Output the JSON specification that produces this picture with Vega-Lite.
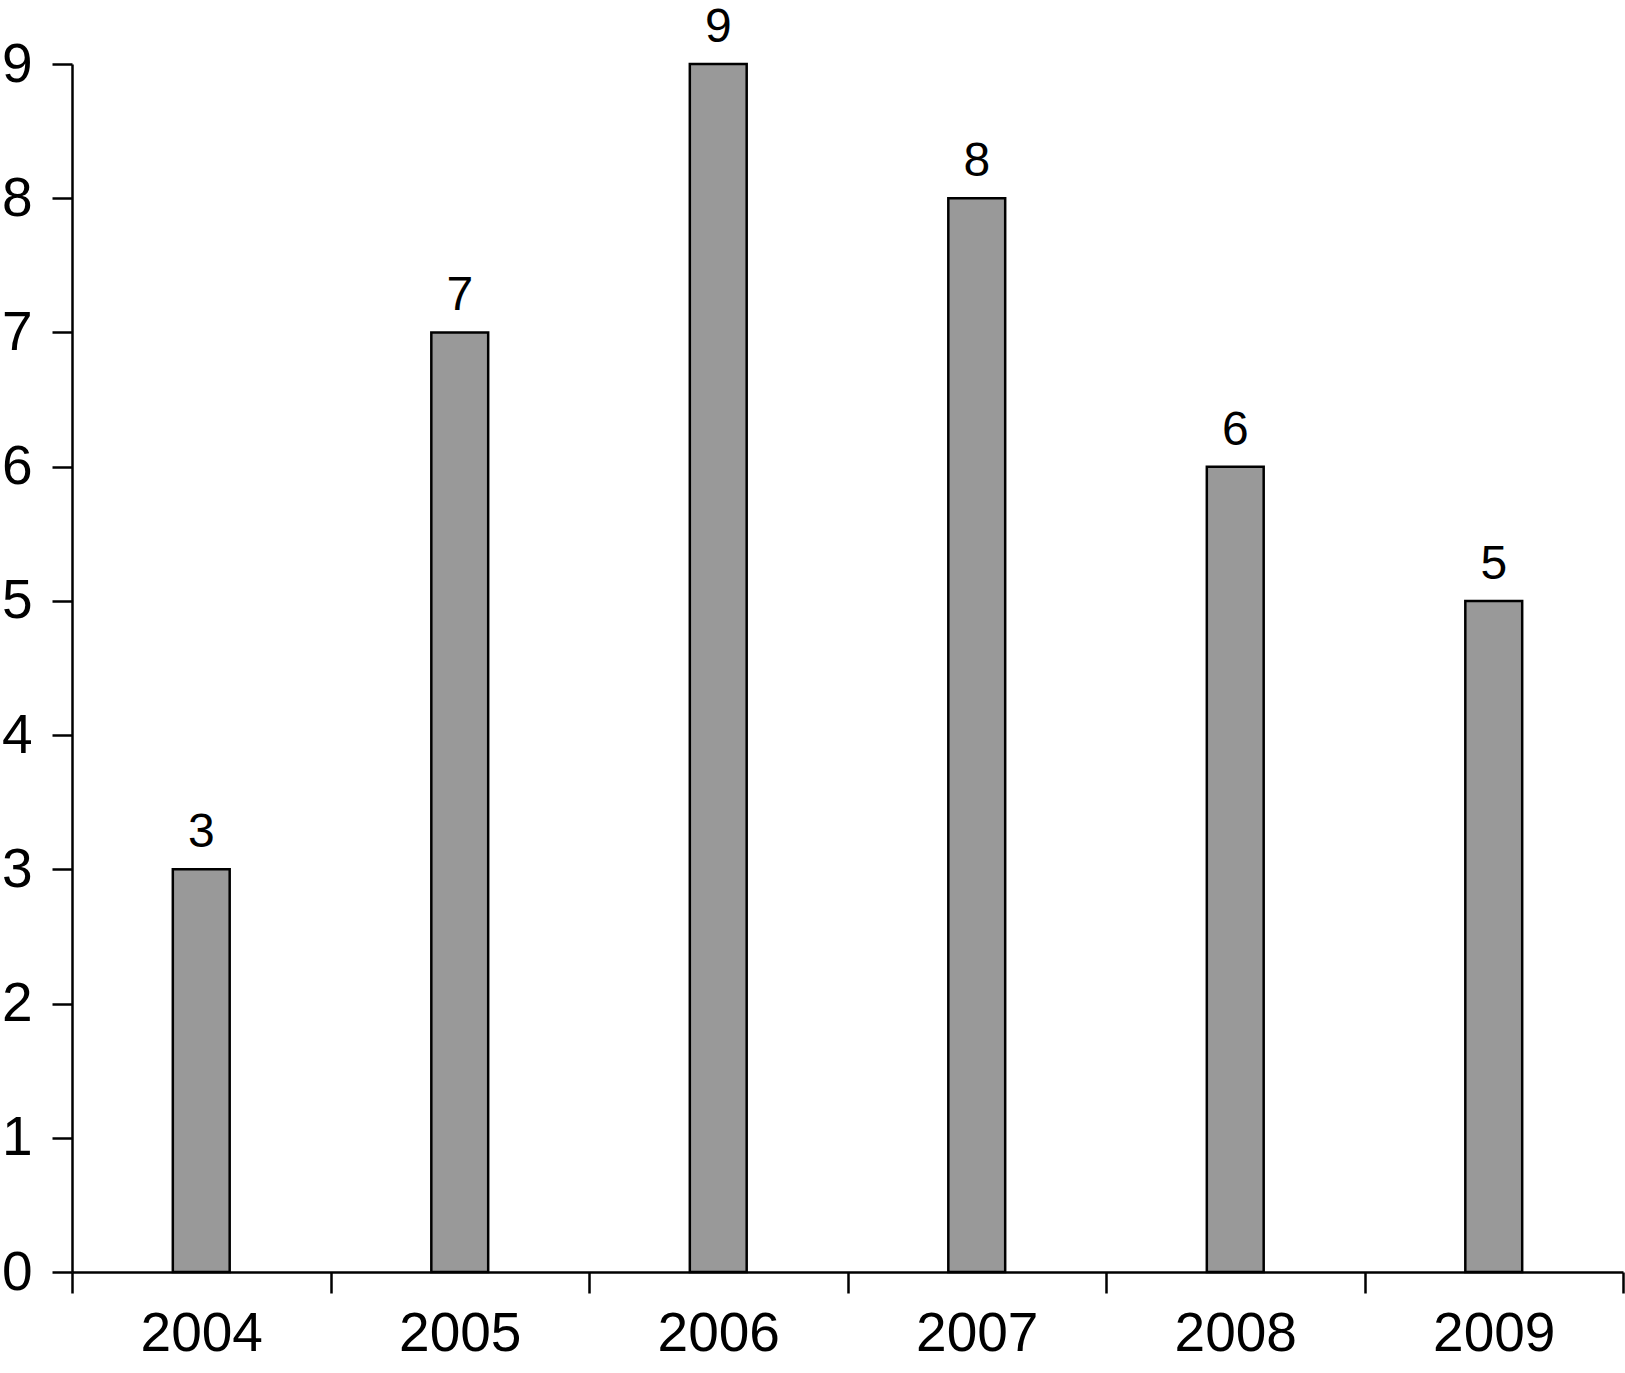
{
  "$schema": "https://vega.github.io/schema/vega-lite/v6.json",
  "autosize": {"type": "none"},
  "width": 1551,
  "height": 1208,
  "padding": {"left": 72, "top": 64, "right": 2, "bottom": 101},
  "background": "white",
  "config": {
    "view": {"stroke": null},
    "font": "Liberation Sans",
    "axis": {
      "domainColor": "black",
      "domainWidth": 2.5,
      "tickColor": "black",
      "tickWidth": 2.5,
      "labelColor": "black",
      "labelFont": "Liberation Sans",
      "labelFontSize": 55,
      "grid": false,
      "title": null
    }
  },
  "data": {
    "values": [
      {"year": "2004", "value": 3},
      {"year": "2005", "value": 7},
      {"year": "2006", "value": 9},
      {"year": "2007", "value": 8},
      {"year": "2008", "value": 6},
      {"year": "2009", "value": 5}
    ]
  },
  "encoding": {
    "x": {
      "field": "year",
      "type": "nominal",
      "scale": {"paddingInner": 0, "paddingOuter": 0},
      "axis": {"labelAngle": 0, "tickBand": "extent", "tickSize": 21, "labelPadding": 14}
    },
    "y": {
      "field": "value",
      "type": "quantitative",
      "scale": {"domain": [0, 9], "nice": false},
      "axis": {"values": [0,1,2,3,4,5,6,7,8,9], "tickSize": 20, "labelPadding": 20}
    }
  },
  "layer": [
    {
      "mark": {"type": "bar", "width": {"band": 0.22}, "fill": "#999999", "stroke": "black", "strokeWidth": 2.5}
    },
    {
      "mark": {"type": "text", "baseline": "alphabetic", "dy": -22, "fontSize": 48, "color": "black", "font": "Liberation Sans"},
      "encoding": {"text": {"field": "value", "type": "quantitative"}}
    }
  ]
}
